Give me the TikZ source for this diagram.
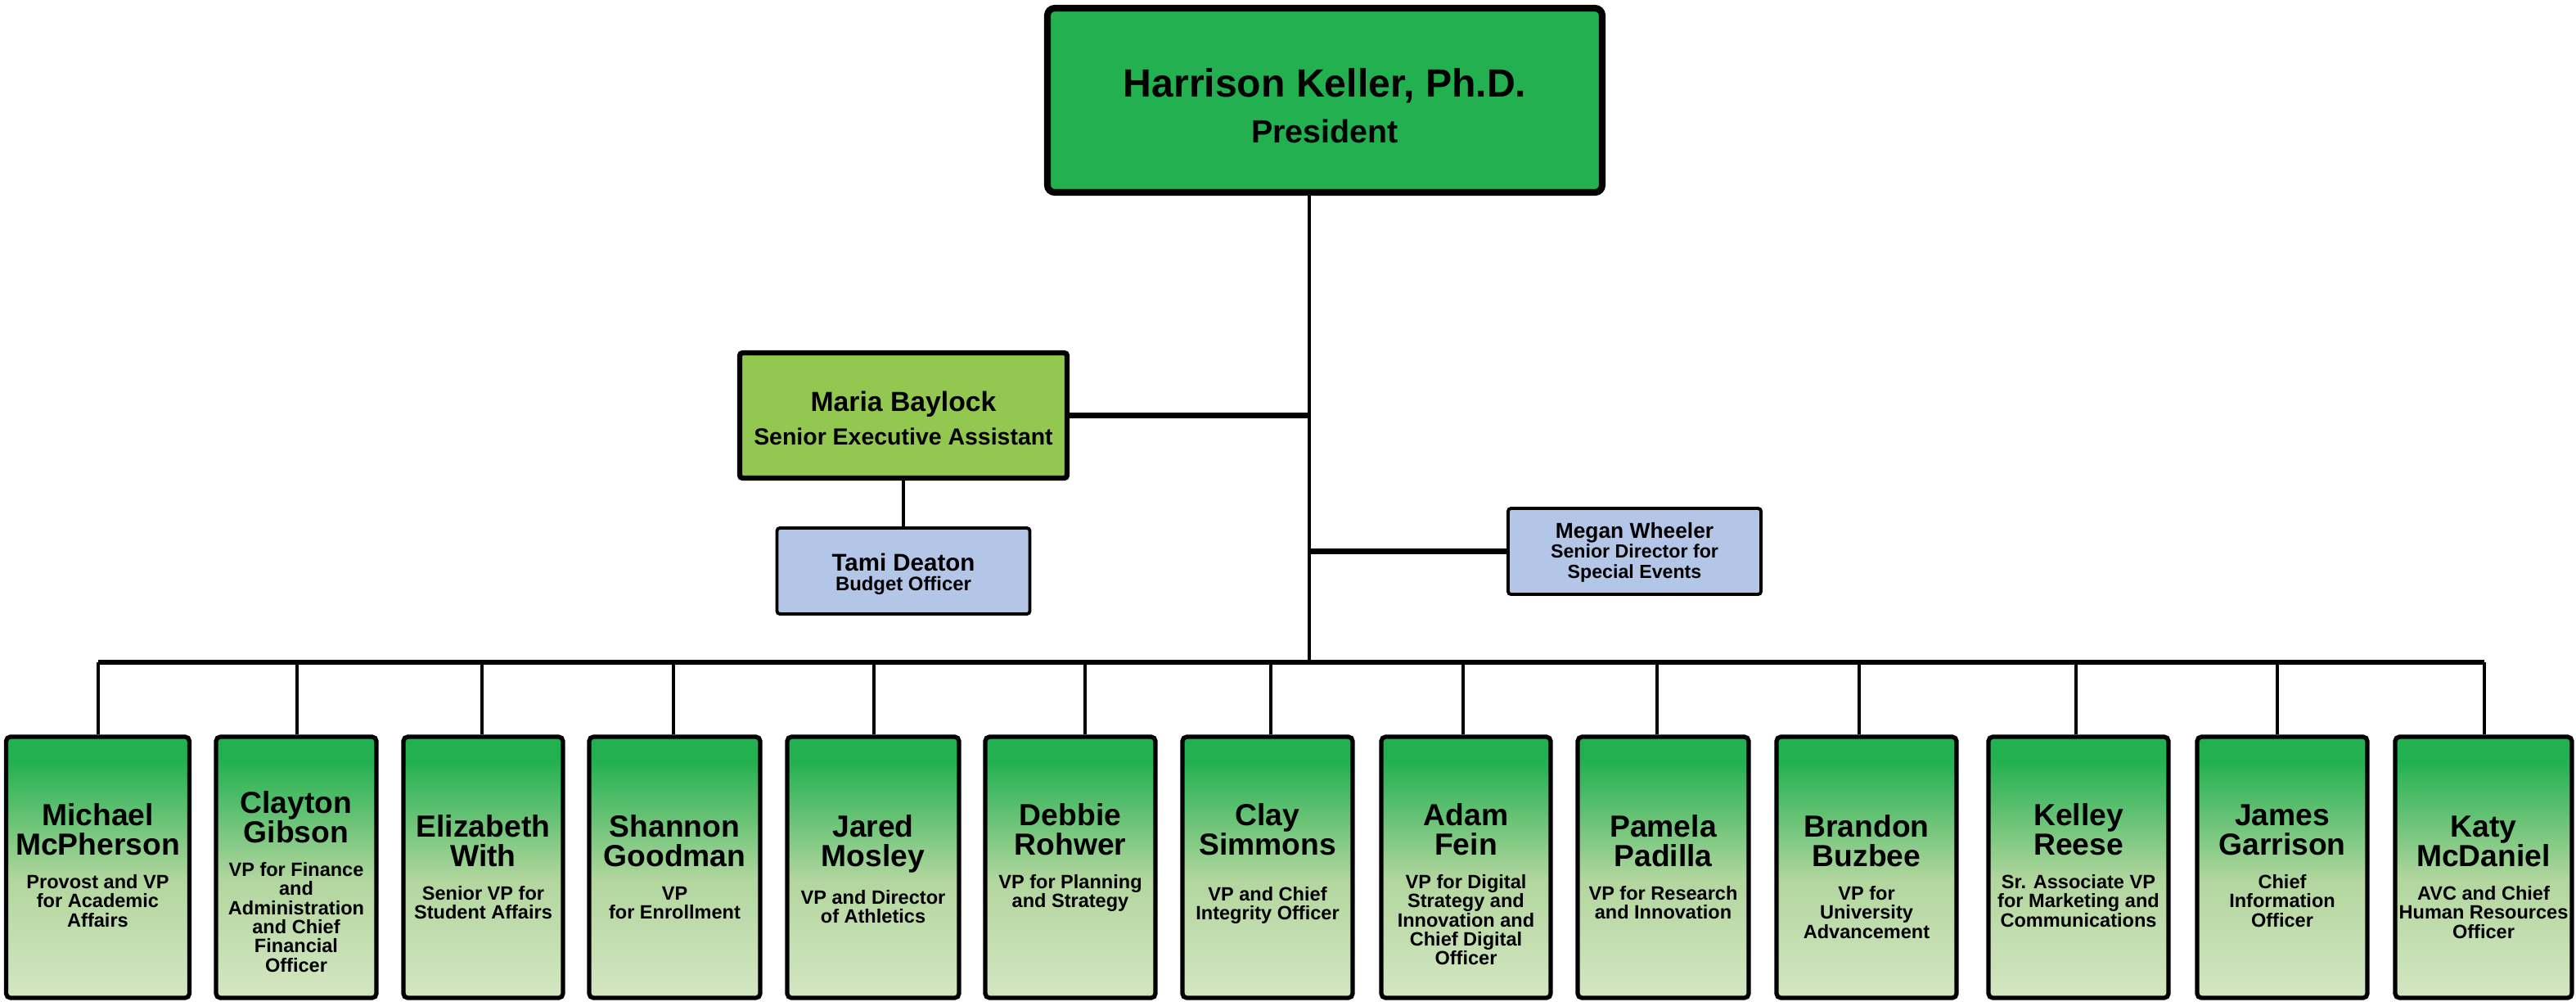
\documentclass[tikz,border=0pt]{standalone}
\usepackage{fontspec}
\setmainfont{Liberation Sans}
\usepackage{tikz}
\definecolor{presgreen}{RGB}{34,176,80}
\definecolor{aidegreen}{RGB}{146,200,80}
\definecolor{staffblue}{RGB}{180,198,231}
\definecolor{vptop}{RGB}{34,176,80}
\definecolor{vpmid}{RGB}{178,214,158}
\definecolor{vpbot}{RGB}{212,230,194}
\pgfdeclareverticalshading{vpshade}{100bp}{color(0bp)=(vpbot); color(25bp)=(vpbot); color(47.5bp)=(vpmid); color(70.5bp)=(vptop); color(100bp)=(vptop)}
\tikzstyle{pres box}=[draw, line width=2.3pt, fill=presgreen, rounded corners=2.5pt, minimum width=6.78cm, text width=6.5cm, align=flush center, inner sep=0pt, font=\bfseries]
\tikzstyle{aide box}=[draw, line width=1.8pt, fill=aidegreen, rounded corners=1pt, minimum width=4cm, text width=3.9cm, align=flush center, inner sep=0pt, font=\bfseries]
\tikzstyle{staff box}=[draw, line width=1.1pt, fill=staffblue, rounded corners=1pt, minimum width=3.09cm, text width=3cm, align=flush center, inner sep=0pt, font=\bfseries]
\tikzstyle{vp box}=[draw, line width=1.5pt, shade, shading=vpshade, rounded corners=1.5pt, align=flush center, inner sep=0pt, font=\bfseries]
\tikzstyle{link}=[draw, line width=1.4pt]
\tikzstyle{thick link}=[draw, line width=1.9pt]
\tikzstyle{drop link}=[draw, line width=1.2pt]
\newcommand{\vptext}[3]{{\fontsize{10.6}{10.45}\selectfont #2\par}\vspace{#1}{\fontsize{6.7}{6.65}\selectfont #3\par}}
\lineskiplimit=-4pt

\begin{document}
\begin{tikzpicture}[y=-1cm]
    \useasboundingbox (0,0) rectangle (31.48,12.23);
    \node[pres box, text height=1.08cm, text depth=1.17cm] (pres) at (16.19,1.225)
        {{\fontsize{13.7}{15}\selectfont Harrison Keller, Ph.D.\par}\vspace{4.2pt}{\fontsize{11.2}{12}\selectfont President\par}};
    \node[aide box, text height=0.71cm, text depth=0.82cm] (maria) at (11.04,5.075)
        {{\fontsize{9.6}{10}\selectfont Maria Baylock\par}\vspace{3.2pt}{\fontsize{8.1}{8.5}\selectfont Senior Executive Assistant\par}};
    \node[staff box, text height=0.52cm, text depth=0.53cm] (tami) at (11.04,6.975)
        {{\fontsize{8.4}{9}\selectfont Tami Deaton\par}{\fontsize{6.8}{7.1}\selectfont Budget Officer\par}};
    \node[staff box, text height=0.36cm, text depth=0.69cm] (megan) at (19.975,6.735)
        {{\fontsize{7.5}{8}\selectfont Megan Wheeler\par}{\fontsize{6.6}{7.1}\selectfont Senior Director for\\Special Events\par}};
    \coordinate (bus) at (16.00,8.09);
    % x / width / drop / first baseline / gap / name / title
    \foreach \x/\w/\dx/\tht/\gap/\who/\what [count=\i] in {
        1.195/2.24/1.20/1.08/4.9pt/Michael\\McPherson/Provost and VP\\for Academic\\Affairs,
        3.62/1.96/3.63/0.93/4.9pt/Clayton\\Gibson/VP for Finance\\and\\Administration\\and Chief\\Financial\\Officer,
        5.905/1.95/5.89/1.22/4.9pt/Elizabeth\\With/Senior VP for\\Student Affairs,
        8.245/2.09/8.23/1.22/4.9pt/Shannon\\Goodman/VP\\for Enrollment,
        10.67/2.10/10.68/1.22/4.9pt/Jared\\Mosley/VP and Director\\of Athletics,
        13.08/2.08/13.26/1.08/4.9pt/Debbie\\Rohwer/VP for Planning\\and Strategy,
        15.49/2.08/15.53/1.08/9.1pt/Clay\\Simmons/VP and Chief\\Integrity Officer,
        17.915/2.07/17.88/1.08/4.9pt/Adam\\Fein/VP for Digital\\Strategy and\\Innovation and\\Chief Digital\\Officer,
        20.325/2.09/20.25/1.22/4.9pt/Pamela\\Padilla/VP for Research\\and Innovation,
        22.81/2.20/22.72/1.22/4.9pt/Brandon\\Buzbee/VP for\\University\\Advancement,
        25.40/2.20/25.37/1.08/4.9pt/Kelley\\Reese/Sr. Associate VP\\for Marketing and\\Communications,
        27.89/2.08/27.83/1.08/4.9pt/James\\Garrison/Chief\\Information\\Officer,
        30.35/2.16/30.36/1.22/4.9pt/Katy\\McDaniel/AVC and Chief\\Human Resources\\Officer}
    {
        \node[vp box, minimum width=\w cm, text width=\w cm, text height=\tht cm, text depth=3.19cm-\tht cm]
            (vp\i) at (\x,10.595) {\vptext{\gap}{\who}{\what}};
        \coordinate (drop\i) at (\dx,8.09);
    }
    % connectors
    \path[link] (pres.south -| bus) -- (bus);
    \path[thick link] (maria.east) -- (maria.east -| bus);
    \path[link] (maria.south) -- (tami.north);
    \path[thick link] (megan.west) -- (megan.west -| bus);
    \path[thick link] (drop1) -- (drop13);
    \foreach \i in {1,...,13}
        \path[drop link] (vp\i.north -| drop\i) -- (drop\i);
\end{tikzpicture}
\end{document}
